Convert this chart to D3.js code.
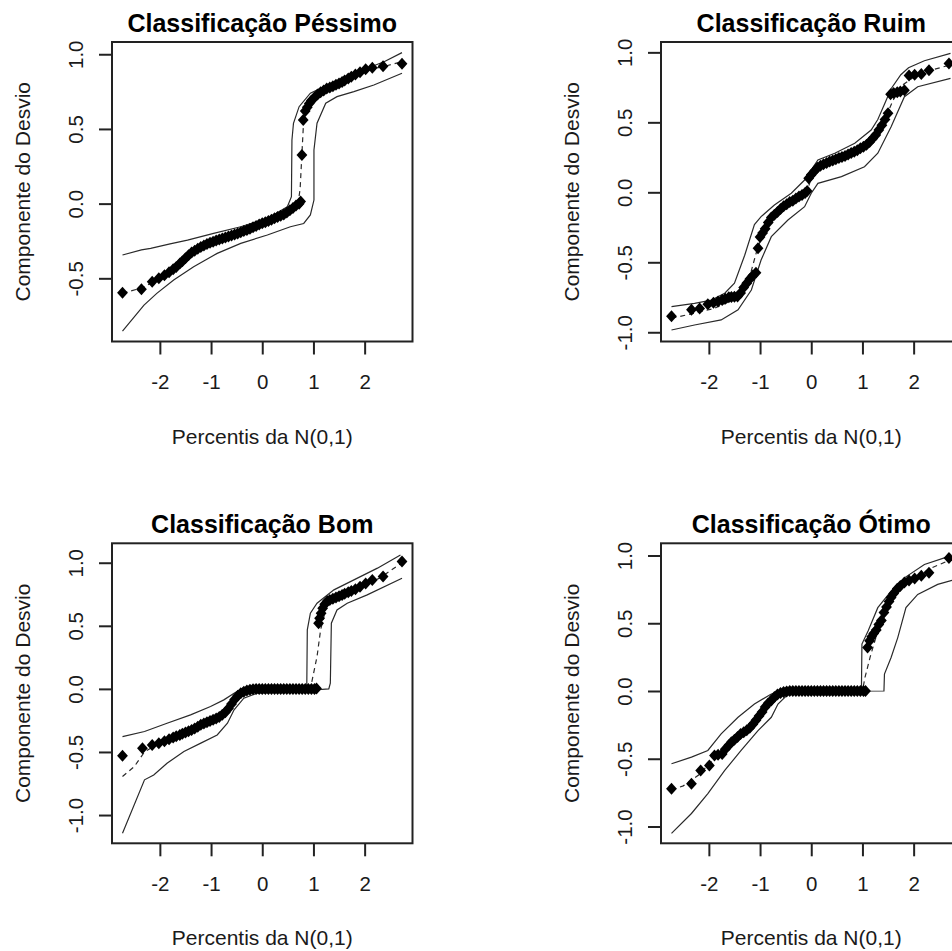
<!DOCTYPE html>
<html><head><meta charset="utf-8">
<script src="https://cdn.jsdelivr.net/npm/d3@7"></script>
<style>
html,body{margin:0;padding:0;background:#fff;overflow:hidden}
svg{display:block;font-family:"Liberation Sans",Arial,Helvetica,sans-serif}
</style></head><body>
<svg id="chart" width="952" height="951"></svg>
<script>
// ---------- texts & ticks ----------
const titulos = ["Classificação Péssimo","Classificação Ruim","Classificação Bom","Classificação Ótimo"];
const rotuloX = "Percentis da N(0,1)";
const rotuloY = "Componente do Desvio";
const ticksX = [-2,-1,0,1,2];
const ticksYPessimo = [-0.5,0,0.5,1];
const ticksY = [-1,-0.5,0,0.5,1];
const limiteX = [-2.935,2.935];
const limitesY = [[-0.923,1.082],[-1.066,1.074],[-1.224,1.154],[-1.124,1.090]];

// ---------- Péssimo ----------
const pontosPessimo = [[-2.73,-0.597],[-2.36,-0.574],[-2.15,-0.523],[-2.02,-0.50],[-1.91,-0.48],
[-1.82,-0.46],[-1.74,-0.44],[-1.68,-0.425],[-1.61,-0.40],[-1.56,-0.385],
[-1.50,-0.365],[-1.44,-0.345],[-1.38,-0.328],[-1.32,-0.315],[-1.26,-0.302],
[-1.20,-0.29],[-1.14,-0.28],[-1.08,-0.27],[-1.02,-0.262],[-0.96,-0.255],
[-0.90,-0.247],[-0.84,-0.24],[-0.78,-0.233],[-0.72,-0.226],[-0.66,-0.22],
[-0.60,-0.214],[-0.54,-0.207],[-0.48,-0.20],[-0.42,-0.192],[-0.36,-0.184],
[-0.30,-0.177],[-0.24,-0.168],[-0.18,-0.158],[-0.12,-0.15],[-0.06,-0.14],
[0,-0.132],[0.06,-0.125],[0.12,-0.117],[0.18,-0.108],[0.24,-0.098],
[0.30,-0.09],[0.36,-0.082],[0.42,-0.072],[0.48,-0.06],[0.54,-0.045],
[0.60,-0.03],[0.66,-0.012],[0.72,0.0],[0.75,0.015],[0.775,0.326],
[0.80,0.56],[0.84,0.62],[0.88,0.645],[0.92,0.67],[0.96,0.69],
[1.02,0.71],[1.08,0.73],[1.14,0.745],[1.20,0.758],[1.26,0.77],
[1.32,0.778],[1.38,0.786],[1.44,0.795],[1.50,0.805],[1.56,0.815],
[1.61,0.825],[1.68,0.838],[1.74,0.85],[1.82,0.865],[1.91,0.88],
[2.02,0.90],[2.15,0.91],[2.36,0.92],[2.73,0.937]];
const envSupPessimo = [[-2.73,-0.344],[-2.36,-0.31],[-2.18,-0.30],[-1.80,-0.27],[-1.46,-0.244],[-0.95,-0.199],[-0.42,-0.155],[0.10,-0.099],[0.49,-0.021],[0.57,0.046],[0.58,0.426],[0.61,0.538],[0.72,0.649],[0.94,0.739],[1.27,0.794],[1.66,0.839],[2.05,0.906],[2.38,0.95],[2.73,1.011]];
const envInfPessimo = [[-2.73,-0.853],[-2.31,-0.679],[-2.06,-0.601],[-1.73,-0.512],[-1.34,-0.423],[-0.88,-0.333],[-0.42,-0.266],[0.10,-0.21],[0.55,-0.155],[0.81,-0.133],[0.94,-0.076],[1.01,0.024],[1.01,0.359],[1.07,0.538],[1.24,0.672],[1.46,0.716],[1.79,0.75],[2.18,0.794],[2.73,0.873]];
const envMedPessimo = [[-2.73,-0.60],[-2.36,-0.565],[-2.10,-0.52],[-1.80,-0.46],[-1.50,-0.365],[-1.20,-0.29],[-0.80,-0.236],[-0.40,-0.19],[0,-0.133],[0.40,-0.075],[0.60,-0.03],[0.70,0.0],[0.74,0.1],[0.77,0.3],[0.80,0.5],[0.86,0.62],[0.97,0.69],[1.20,0.755],[1.60,0.82],[2.05,0.895],[2.40,0.92],[2.73,0.95]];

// ---------- Ruim ----------
const pontosRuim = [[-2.73,-0.885],[-2.34,-0.84],[-2.18,-0.83],[-2.02,-0.80],[-1.91,-0.79],
[-1.82,-0.78],[-1.74,-0.77],[-1.68,-0.76],[-1.61,-0.75],[-1.56,-0.748],
[-1.50,-0.746],[-1.44,-0.745],[-1.38,-0.72],[-1.32,-0.68],[-1.26,-0.65],
[-1.20,-0.62],[-1.14,-0.595],[-1.08,-0.575],[-1.04,-0.40],[-1.00,-0.32],
[-0.95,-0.29],[-0.90,-0.26],[-0.84,-0.215],[-0.78,-0.18],[-0.72,-0.16],
[-0.66,-0.14],[-0.60,-0.12],[-0.54,-0.10],[-0.48,-0.085],[-0.42,-0.07],
[-0.36,-0.06],[-0.30,-0.045],[-0.24,-0.03],[-0.18,-0.02],[-0.12,-0.005],
[-0.08,0.01],[-0.05,0.10],[0.0,0.125],[0.06,0.15],[0.12,0.175],
[0.18,0.19],[0.24,0.20],[0.30,0.21],[0.36,0.22],[0.42,0.228],
[0.48,0.236],[0.54,0.245],[0.60,0.253],[0.66,0.26],[0.72,0.27],
[0.78,0.28],[0.84,0.29],[0.90,0.30],[0.96,0.315],[1.02,0.325],
[1.08,0.34],[1.14,0.36],[1.20,0.385],[1.26,0.41],[1.32,0.445],
[1.38,0.48],[1.44,0.52],[1.50,0.565],[1.55,0.70],[1.61,0.71],
[1.68,0.715],[1.74,0.72],[1.82,0.73],[1.91,0.835],[2.02,0.84],
[2.15,0.845],[2.30,0.873],[2.69,0.921]];
const envSupRuim = [[-2.73,-0.817],[-2.28,-0.793],[-1.95,-0.77],[-1.69,-0.721],[-1.50,-0.65],[-1.30,-0.45],[-1.11,-0.23],[-0.98,-0.174],[-0.72,-0.091],[-0.39,-0.007],[-0.13,0.088],[0.13,0.231],[0.46,0.279],[0.85,0.35],[1.17,0.445],[1.30,0.52],[1.43,0.63],[1.56,0.74],[1.75,0.84],[1.90,0.89],[2.21,0.94],[2.72,0.993]];
const envInfRuim = [[-2.73,-0.984],[-2.28,-0.948],[-1.76,-0.912],[-1.43,-0.84],[-1.17,-0.698],[-0.98,-0.484],[-0.78,-0.317],[-0.455,-0.198],[-0.13,-0.103],[0.0,-0.007],[0.13,0.064],[0.59,0.112],[1.04,0.183],[1.30,0.279],[1.56,0.469],[1.82,0.683],[2.08,0.754],[2.72,0.814]];
const envMedRuim = [[-2.73,-0.90],[-2.30,-0.865],[-1.90,-0.83],[-1.60,-0.78],[-1.40,-0.74],[-1.20,-0.60],[-1.05,-0.40],[-0.90,-0.26],[-0.60,-0.12],[-0.30,-0.045],[-0.08,0.01],[0.0,0.10],[0.15,0.17],[0.50,0.235],[0.90,0.30],[1.20,0.385],[1.45,0.53],[1.60,0.66],[1.80,0.77],[2.10,0.85],[2.72,0.91]];

// ---------- Bom ----------
const pontosBom = [[-2.73,-0.531],[-2.34,-0.47],[-2.15,-0.444],[-2.02,-0.43],[-1.91,-0.415],
[-1.82,-0.40],[-1.74,-0.385],[-1.68,-0.375],[-1.61,-0.365],[-1.56,-0.355],
[-1.50,-0.345],[-1.44,-0.335],[-1.38,-0.325],[-1.32,-0.315],[-1.26,-0.30],
[-1.20,-0.285],[-1.14,-0.275],[-1.08,-0.265],[-1.02,-0.255],[-0.96,-0.245],
[-0.90,-0.235],[-0.84,-0.222],[-0.78,-0.205],[-0.72,-0.185],[-0.66,-0.155],
[-0.60,-0.12],[-0.54,-0.085],[-0.48,-0.055],[-0.42,-0.035],[-0.36,-0.022],
[-0.30,-0.012],[-0.24,-0.006],[-0.18,-0.002],[-0.12,0.0],[-0.06,0.0],
[0,0.0],[0.06,0.0],[0.12,0.0],[0.18,0.0],[0.24,0.0],
[0.30,0.0],[0.36,0.0],[0.42,0.0],[0.48,0.0],[0.54,0.0],
[0.60,0.0],[0.66,0.0],[0.72,0.0],[0.78,0.0],[0.84,0.0],
[0.90,0.0],[0.96,0.0],[1.02,0.0],[1.06,0.003],[1.10,0.52],
[1.12,0.56],[1.15,0.60],[1.18,0.64],[1.22,0.67],[1.27,0.695],
[1.32,0.705],[1.38,0.715],[1.44,0.725],[1.50,0.735],[1.56,0.745],
[1.61,0.755],[1.68,0.765],[1.74,0.775],[1.82,0.79],[1.91,0.81],
[2.02,0.835],[2.15,0.864],[2.36,0.89],[2.73,1.009]];
const envSupBom = [[-2.73,-0.378],[-2.30,-0.338],[-1.86,-0.272],[-1.40,-0.206],[-1.01,-0.14],[-0.75,-0.087],[-0.55,-0.034],[-0.36,0.01],[-0.10,0.018],[0.42,0.018],[0.87,0.02],[0.88,0.468],[0.94,0.60],[1.07,0.679],[1.40,0.785],[1.79,0.864],[2.25,0.957],[2.70,1.062]];
const envInfBom = [[-2.73,-1.144],[-2.30,-0.721],[-2.12,-0.682],[-1.86,-0.589],[-1.53,-0.497],[-1.20,-0.43],[-0.88,-0.365],[-0.68,-0.272],[-0.55,-0.166],[-0.36,-0.074],[-0.10,-0.034],[0.42,-0.021],[0.88,-0.013],[1.30,0.0],[1.33,0.045],[1.35,0.521],[1.46,0.626],[1.66,0.679],[2.05,0.745],[2.73,0.877]];
const envMedBom = [[-2.73,-0.695],[-2.50,-0.616],[-2.30,-0.50],[-2.10,-0.45],[-1.80,-0.40],[-1.40,-0.33],[-1.00,-0.255],[-0.80,-0.21],[-0.60,-0.12],[-0.45,-0.05],[-0.20,-0.005],[0.40,0.0],[0.94,0.0],[1.07,0.256],[1.14,0.468],[1.27,0.679],[1.60,0.75],[2.00,0.82],[2.30,0.88],[2.73,1.0]];

// ---------- Ótimo ----------
const pontosOtimo = [[-2.73,-0.721],[-2.34,-0.684],[-2.16,-0.586],[-1.99,-0.549],[-1.89,-0.476],
[-1.82,-0.47],[-1.74,-0.465],[-1.68,-0.43],[-1.61,-0.40],[-1.56,-0.378],
[-1.50,-0.36],[-1.44,-0.34],[-1.38,-0.318],[-1.32,-0.305],[-1.26,-0.29],
[-1.20,-0.272],[-1.14,-0.245],[-1.08,-0.215],[-1.02,-0.185],[-0.96,-0.155],
[-0.90,-0.118],[-0.84,-0.09],[-0.78,-0.07],[-0.72,-0.045],[-0.66,-0.025],
[-0.60,-0.015],[-0.54,-0.008],[-0.48,-0.003],[-0.42,0.0],[-0.36,0.0],
[-0.30,0.0],[-0.24,0.0],[-0.18,0.0],[-0.12,0.0],[-0.06,0.0],
[0,0.0],[0.06,0.0],[0.12,0.0],[0.18,0.0],[0.24,0.0],
[0.30,0.0],[0.36,0.0],[0.42,0.0],[0.48,0.0],[0.54,0.0],
[0.60,0.0],[0.66,0.0],[0.72,0.0],[0.78,0.0],[0.84,0.0],
[0.90,0.0],[0.96,0.0],[1.02,0.0],[1.06,0.0],[1.10,0.321],
[1.14,0.37],[1.18,0.40],[1.22,0.425],[1.27,0.45],[1.32,0.49],
[1.37,0.52],[1.42,0.58],[1.47,0.62],[1.52,0.66],[1.56,0.69],
[1.61,0.72],[1.68,0.755],[1.74,0.775],[1.82,0.80],[1.91,0.815],
[2.02,0.83],[2.15,0.85],[2.30,0.872],[2.69,0.982]];
const envSupOtimo = [[-2.73,-0.537],[-2.34,-0.488],[-2.02,-0.439],[-1.76,-0.316],[-1.43,-0.194],[-1.11,-0.096],[-0.78,-0.022],[-0.52,0.007],[0.98,0.007],[0.99,0.346],[1.11,0.443],[1.30,0.615],[1.56,0.737],[1.82,0.835],[2.21,0.934],[2.60,0.982],[2.75,0.99]];
const envInfOtimo = [[-2.73,-1.051],[-2.34,-0.904],[-2.02,-0.757],[-1.69,-0.586],[-1.37,-0.439],[-1.04,-0.292],[-0.78,-0.194],[-0.65,-0.096],[-0.45,-0.022],[-0.20,-0.002],[1.42,0.0],[1.43,0.125],[1.56,0.247],[1.69,0.394],[1.85,0.615],[2.08,0.713],[2.47,0.787],[2.75,0.816]];
const envMedOtimo = [[-2.73,-0.73],[-2.50,-0.70],[-2.20,-0.62],[-1.90,-0.50],[-1.60,-0.40],[-1.30,-0.30],[-1.00,-0.18],[-0.80,-0.08],[-0.60,-0.02],[-0.40,0.0],[1.00,0.0],[1.05,0.10],[1.15,0.25],[1.25,0.38],[1.35,0.48],[1.50,0.62],[1.70,0.74],[2.00,0.83],[2.30,0.90],[2.73,0.97]];

// ---------- layout ----------
const W = 300.5;
const paineis = [
  {titulo:titulos[0], pontos:pontosPessimo, sup:envSupPessimo, inf:envInfPessimo, med:envMedPessimo, ticksY:ticksYPessimo, dom:limitesY[0], l:112, t:42, h:299.5},
  {titulo:titulos[1], pontos:pontosRuim, sup:envSupRuim, inf:envInfRuim, med:envMedRuim, ticksY:ticksY, dom:limitesY[1], l:661, t:42, h:299.5},
  {titulo:titulos[2], pontos:pontosBom, sup:envSupBom, inf:envInfBom, med:envMedBom, ticksY:ticksY, dom:limitesY[2], l:112, t:543.3, h:300},
  {titulo:titulos[3], pontos:pontosOtimo, sup:envSupOtimo, inf:envInfOtimo, med:envMedOtimo, ticksY:ticksY, dom:limitesY[3], l:661, t:543.3, h:300}
];

const svg = d3.select("#chart");
svg.append("rect").attr("width",952).attr("height",951).attr("fill","#fff");
const corTexto = "#1a1a1a", corLinha = "#222";

paineis.forEach((p,i) => {
  const g = svg.append("g").attr("transform",`translate(${p.l},${p.t})`);
  const x = d3.scaleLinear().domain(limiteX).range([0,W]);
  const y = d3.scaleLinear().domain(p.dom).range([p.h,0]);
  const id = "clip"+i;
  g.append("clipPath").attr("id",id).append("rect").attr("width",W).attr("height",p.h);
  const area = g.append("g").attr("clip-path",`url(#${id})`);
  const linha = d3.line().x(d=>x(d[0])).y(d=>y(d[1]));
  [p.sup,p.inf].forEach(env => {
    area.append("path").datum(env).attr("d",linha).attr("fill","none")
      .attr("stroke","#2a2a2a").attr("stroke-width",1.2);
  });
  area.append("path").datum(p.med).attr("d",linha).attr("fill","none")
    .attr("stroke","#2a2a2a").attr("stroke-width",1.2).attr("stroke-dasharray","5,4");
  area.selectAll("path.pt").data(p.pontos).join("path").attr("class","pt")
    .attr("d","M0,-6L5.4,0L0,6L-5.4,0Z")
    .attr("transform",d=>`translate(${x(d[0])},${y(d[1])})`)
    .attr("fill","#000");

  g.append("rect").attr("width",W).attr("height",p.h).attr("fill","none")
    .attr("stroke",corLinha).attr("stroke-width",2);

  const ax = g.append("g").attr("transform",`translate(0,${p.h})`)
    .call(d3.axisBottom(x).tickValues(ticksX).tickSize(13).tickFormat(d=>String(d)));
  ax.attr("font-family",null).attr("font-size",null);
  ax.select(".domain").remove();
  ax.selectAll("line").attr("stroke",corLinha).attr("stroke-width",2);
  ax.selectAll("text").attr("y",47.5).attr("dy",null)
    .attr("font-size",20.5).attr("fill",corTexto);

  const ay = g.append("g").call(d3.axisLeft(y).tickValues(p.ticksY).tickSize(13).tickFormat(d=>d.toFixed(1)));
  ay.attr("font-family",null).attr("font-size",null);
  ay.select(".domain").remove();
  ay.selectAll("line").attr("stroke",corLinha).attr("stroke-width",2);
  ay.selectAll("text").attr("x",null).attr("dy",null)
    .attr("transform","translate(-29.5,0) rotate(-90)")
    .attr("text-anchor","middle").attr("font-size",20.5).attr("fill",corTexto);

  g.append("text").attr("x",W/2).attr("y",-10.5).attr("text-anchor","middle")
    .attr("font-weight","bold").attr("font-size",25).attr("fill","#000").text(p.titulo);
  g.append("text").attr("x",W/2).attr("y",p.h+102).attr("text-anchor","middle")
    .attr("font-size",21).attr("fill",corTexto).text(rotuloX);
  g.append("text").attr("transform",`translate(-82,${p.h/2}) rotate(-90)`)
    .attr("text-anchor","middle").attr("font-size",21).attr("fill",corTexto).text(rotuloY);
});
</script>
</body></html>
